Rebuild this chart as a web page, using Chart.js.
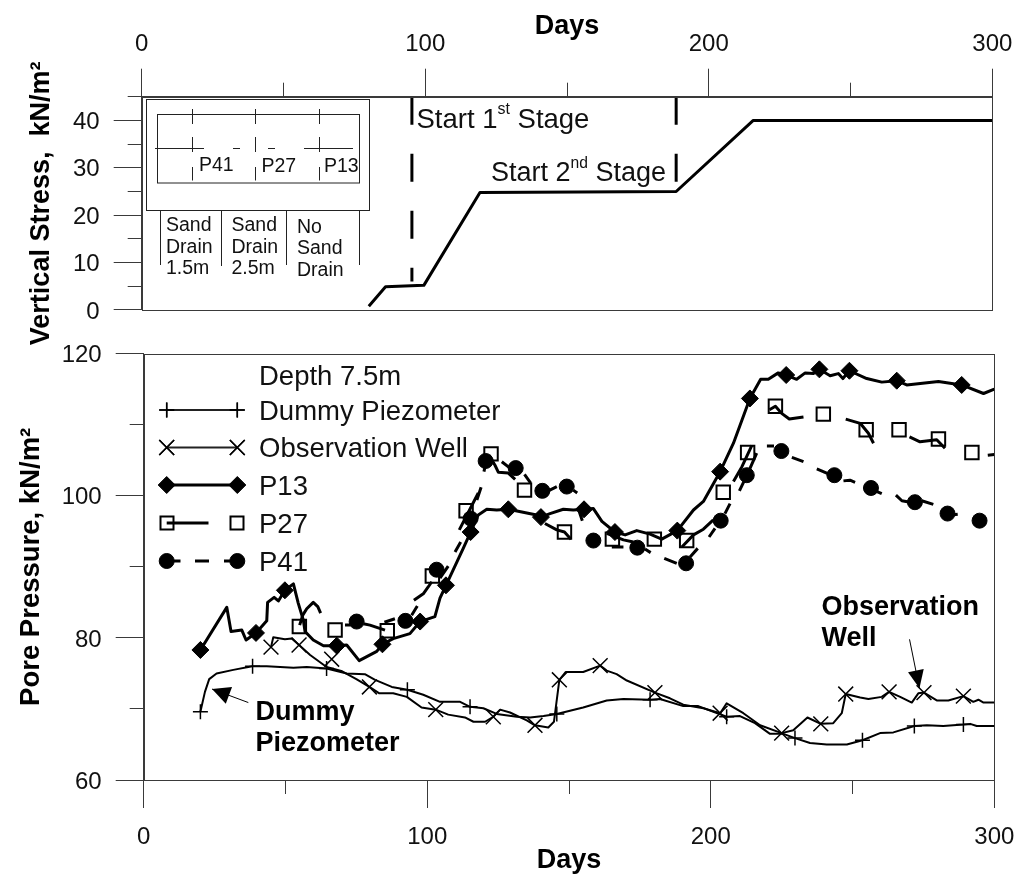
<!DOCTYPE html>
<html>
<head>
<meta charset="utf-8">
<title>Vertical stress and pore pressure</title>
<script src="https://cdn.jsdelivr.net/npm/chart.js@4/dist/chart.umd.min.js"></script>
<style>
  html, body { margin: 0; padding: 0; background: #fff; }
  canvas { position: absolute; left: 0; top: 0; }
</style>
</head>
<body>
<canvas id="stress" width="1015" height="879"></canvas>
<canvas id="pressure" width="1015" height="879"></canvas>
<script>
// Top panel: applied stress and the two stage markers
const loadDays = [80.1, 86, 99.5, 119.3, 188.5, 215.7, 300];
const loadVals = [0.8, 4.9, 5.2, 24.8, 25, 40, 40];
const stage1Days = [95.3, 95.3];
const stage1Vals = [45, 6];
const stage2Days = [188.5, 188.5];
const stage2Vals = [45, 25];

// Bottom panel: null in a value array breaks the line
const dummyDays = [20, 21.6, 23.1, 25.7, 31.6, 38.3, 43.4, 52.8, 57.5, 64.5, 71.6, 78, 81.6, 87.5, 93, 98.6, 104.5, 111.6, 115.1, 119.8, 124.5, 131.6, 136.3, 141, 145.7, 155, 163.3, 169.2, 178.6, 182.1, 190.3, 195.6, 205.6, 210.3, 215.6, 220.9, 225.6, 229.7, 235, 240.9, 248, 253.5, 259.7, 264.4, 271.8, 276.2, 282, 289.1, 291.5, 293.8, 300];
const dummyVals = [69.6, 72.4, 74.2, 75, 75.5, 76, 76, 75.8, 75.9, 75.7, 75, 74.9, 74.1, 73.1, 72.7, 72, 71, 71, 70.3, 70.1, 69.3, 68.9, 68.8, 69, 69.3, 70.2, 71.2, 71.4, 71.3, 71.4, 70.4, 70.4, 68.9, 69, 68, 66.5, 66.5, 65.9, 65.2, 65, 65, 65.6, 66.6, 66.7, 67.6, 67.7, 67.6, 67.8, 67.9, 67.6, 67.6];
const dummyMarkDays = [20, 38.4, 64.5, 93, 115.1, 145.7, 178.6, 205.6, 229.7, 253.5, 271.8, 289.1];
const dummyMarkVals = [69.6, 76, 75.7, 72.7, 70.3, 69.3, 71.3, 68.9, 65.9, 65.6, 67.6, 67.8];

const wellDays = [44.9, 45.7, 49.8, 52.2, 54.8, 58.7, 64.5, 70, 75, 79.6, 83.1, 88, 92.8, 98, 103, 107.4, 113.3, 116.3, 120.4, 123.3, 125.7, 129.2, 135.1, 138, 142.7, 144.7, 146.6, 148.8, 155, 161, 163.3, 166.8, 170.4, 180.3, 185.6, 190.3, 197.4, 203.3, 205.6, 211.5, 217.4, 225, 229.1, 234.1, 238.8, 243.2, 246.2, 247.6, 252.7, 255.6, 260.3, 262.9, 266.8, 270.9, 273.2, 275.2, 279.7, 283.8, 289.1, 292.6, 294.4, 296.2, 300];
const wellVals = [78.7, 80.1, 79.8, 79.9, 79, 77.6, 75.9, 75.3, 74.2, 73.1, 72.2, 72.2, 71.7, 70.2, 69.9, 69.2, 68.8, 68.2, 68.2, 68.9, 69.9, 69.5, 68.4, 67.7, 67.4, 68.2, 74.1, 75.2, 75.2, 76.1, 75.4, 74.9, 74, 72.3, 71.5, 70.6, 70.1, 69.4, 70.8, 69.4, 67.7, 66.6, 67, 68.8, 67.9, 68, 69.4, 72.1, 71.6, 71.4, 71.7, 72.4, 71.7, 70.9, 72.2, 72.3, 71.2, 71.2, 71.8, 71, 71.3, 70.9, 70.9];
const wellMarkDays = [44.9, 54.8, 66.3, 79.6, 103, 123.3, 138, 146.6, 161, 180.3, 203.3, 225, 238.8, 247.6, 262.9, 275.2, 289.1];
const wellMarkVals = [78.7, 79, 77, 73.1, 69.9, 68.9, 67.7, 74.1, 76.1, 72.3, 69.4, 66.6, 67.9, 72.1, 72.4, 72.3, 71.8];

const p13Days = [20, 29.3, 30.8, 34.6, 36.1, 39.6, 43.4, 43.7, 46, 47.5, 49.8, 52.8, 54.5, 56.3, 56.9, 59.8, 63.4, 68.1, 71.6, 76, 82.2, 84.2, 88, 93.9, 97.5, 102.7, 104.5, 106.6, 112.7, 115.3, 118, 121, 124.5, 128.6, 138.6, 140.1, 143.3, 148, 151.5, 155.3, 158.6, 161.6, 166.2, 169.8, 173.9, 178.6, 182.7, 188.2, 193.9, 197.4, 203.3, 208, 213.8, 217.6, 220.3, 223.8, 226.6, 230.3, 233.3, 236.2, 238.3, 242.1, 245, 246.6, 248.9, 255, 260.3, 265.6, 269.1, 280.3, 288.5, 296.2, 300];
const p13Vals = [78.3, 84.3, 80.9, 81.1, 79.7, 80.7, 82.4, 85, 85.7, 85.2, 86.7, 87.6, 84.9, 82.5, 80.9, 79.7, 78.9, 78.9, 79, 76.8, 78.1, 79.1, 79.9, 80.6, 82.3, 83, 85.6, 87.4, 92.6, 94.9, 97.3, 98.1, 98, 98.1, 97.3, 97, 97.5, 98.1, 98, 98.1, 98.2, 96.4, 94.9, 94.5, 95.1, 94.6, 93.9, 95.1, 98, 99.2, 103.4, 107.4, 113.7, 116.4, 116.4, 117.3, 117, 116.4, 117.3, 117.2, 117.8, 116.9, 117.2, 116.5, 117.6, 116.5, 116, 116.2, 115.6, 116.1, 115.6, 114.4, 115];
const p13MarkDays = [20, 39.6, 49.8, 68.1, 84.2, 97.5, 106.6, 115.3, 128.6, 140.1, 155.3, 166.2, 188.2, 203.3, 213.8, 226.6, 238.3, 248.9, 265.6, 288.5];
const p13MarkVals = [78.3, 80.7, 86.7, 78.9, 79.1, 82.3, 87.4, 94.9, 98.1, 97, 98.1, 94.9, 95.1, 103.4, 113.7, 117, 117.8, 117.6, 116.2, 115.6];

const p27Days = [55, 56.1, 57.5, 59.8, 61.4, 62.4, 62.4, 77.5, 79.8, 85.1, 85.1, 95.3, 98.6, 100.4, 101.6, 101.6, 111.3, 118, 118, 121.8, 123.9, 125.1, 128.6, 131, 131, 141.5, 145.7, 148.4, 150.7, 150.7, 153.6, 154.7, 154.7, 163.3, 169.2, 172.7, 172.7, 189.8, 193.9, 197.4, 200.9, 200.9, 208, 211, 214.5, 214.5, 220.7, 222.8, 225, 227.7, 232.7, 232.7, 247.6, 252.7, 255.6, 257.4, 257.4, 270.1, 273.8, 279.7, 282.6, 282.6, 297.7, 300];
const p27Vals = [81.8, 83.2, 84.1, 85, 84.4, 83.5, null, 82, 81.8, 81.1, null, 85.3, 86.2, 87.2, 87.9, null, 95.2, 100.4, null, 105.7, 104.3, 103.3, 103.2, 102.3, null, 96.1, 95.2, 94.9, 93.9, null, 97.8, 96.5, null, 94.7, 93.8, 93.5, null, 92.8, 94.5, 95.3, 96.6, null, 102, 104.1, 107.1, null, 112.1, 112.6, 111.6, 110.8, 111.1, null, 110.8, 110.2, 108.8, 107.4, null, 108.3, 107.6, 107.9, 106.7, null, 105.7, 105.8];
const p27MarkDays = [54.9, 67.5, 85.9, 101.8, 113.7, 122.5, 134.3, 148.4, 165.3, 180.1, 191.5, 204.4, 213, 222.8, 239.7, 254.8, 266.4, 280.3, 292.1];
const p27MarkVals = [81.6, 81.1, 81, 88.7, 97.9, 105.9, 100.8, 94.9, 93.9, 93.9, 93.7, 100.5, 106.1, 112.6, 111.5, 109.3, 109.3, 108, 106.1];

const p41Days = [71, 73, 73, 84.9, 88.6, 88.6, 94.5, 96.5, 96.5, 104.5, 107.4, 107.4, 109.8, 111.8, 111.8, 117.5, 119, 119, 120, 120.4, 120.4, 126.3, 129.2, 129.2, 134.3, 136.5, 136.5, 142.7, 145.7, 145.7, 151.5, 152.9, 152.9, 165.1, 169.2, 169.2, 176.8, 178.8, 178.8, 183.6, 188, 188, 192.7, 195.4, 195.4, 199.4, 201.5, 201.5, 205, 206.8, 206.8, 210.1, 213.1, 216.2, 216.2, 219.8, 222.3, 222.3, 228.6, 232.7, 232.7, 237.4, 241.5, 241.5, 246.8, 249.1, 250.9, 250.9, 258, 260.3, 260.3, 265.3, 267.4, 270.3, 270.3, 274.4, 278.5, 278.5, 285, 287.1];
const p41Vals = [81.8, 81.8, null, 82.2, 82.7, null, 83.2, 84.5, null, 88.4, 90.1, null, 92.1, 93.5, null, 99.4, 101.2, null, 103.4, 104.1, null, 104.8, 103.9, null, 103, 101.8, null, 100.7, 101.3, null, 100.8, 100.4, null, 92.8, 92.8, null, 92.5, 92, null, 91.2, 90.5, null, 91.4, 92.6, null, 94.2, 95.4, null, 97.5, 98.9, null, 100.7, 103.2, 106, null, 107, 107, null, 105.4, 104.8, null, 103.8, 103.1, null, 102.1, 102.2, 101.9, null, 100.7, 100.3, null, 100.1, 99.3, 99.1, null, 99.3, 98.8, null, 97.3, 97.4];
const p41MarkDays = [75.1, 92.3, 103.3, 115.3, 120.6, 131.2, 140.6, 149.2, 158.6, 174.1, 191.3, 203.5, 212.7, 224.9, 243.6, 256.5, 272, 283.5, 294.8];
const p41MarkVals = [82.3, 82.4, 89.6, 96.8, 104.9, 103.9, 100.7, 101.3, 93.7, 92.7, 90.5, 96.5, 102.9, 106.3, 102.9, 101.1, 99.1, 97.5, 96.5];

const dayLabelsTop = 'Days';
const stressTitle = 'Vertical Stress,  kN/m²';
const pressureTitle = 'Pore Pressure, kN/m²';

const FONT = '"Liberation Sans", Arial, sans-serif';
const AXIS_COLOR = '#3a3a3a';

Chart.defaults.font.family = FONT;
Chart.defaults.color = '#000';
Chart.defaults.animation = false;

function toPoints(days, vals) {
    return days.map((d, i) => ({ x: d, y: vals[i] }));
}

function lineSet(days, vals, width, dash) {
    return {
        data: toPoints(days, vals),
        borderColor: '#000',
        borderWidth: width,
        borderDash: dash || [],
        borderJoinStyle: 'round',
        pointRadius: 0,
        tension: 0,
        spanGaps: false,
        order: 2
    };
}

function markSet(days, vals, style, radius, fill, width, order) {
    return {
        data: toPoints(days, vals),
        showLine: false,
        pointStyle: style,
        pointRadius: radius,
        pointBackgroundColor: fill,
        pointBorderColor: '#000',
        pointBorderWidth: width,
        order: order
    };
}

// axis with fixed box size, so the plot lands where the reference has it
function axisOpts(position, min, max, step, tick, size, extra) {
    return Object.assign({
        type: 'linear',
        position: position,
        min: min,
        max: max,
        grid: { drawOnChartArea: false, tickLength: tick, tickColor: AXIS_COLOR, tickWidth: 1 },
        border: { color: AXIS_COLOR, width: 1 },
        afterFit: (scale) => {
            if (scale.isHorizontal()) scale.height = size;
            else scale.width = size;
            // the 300 label may overhang, it must not push the plot in
            scale.paddingLeft = scale.paddingRight = scale.paddingTop = scale.paddingBottom = 0;
        },
        ticks: { stepSize: step, includeBounds: false, display: false }
    }, extra || {});
}

function labelTicks(step, padding, offset) {
    return {
        stepSize: step,
        includeBounds: false,
        padding: padding,
        labelOffset: offset || 0,
        maxRotation: 0,
        autoSkip: false,
        color: '#111',
        font: { size: 24 }
    };
}

function axisTitle(text, padding, size) {
    return { display: true, text: text, padding: padding, color: '#000', font: { size: size || 27, weight: 'bold' } };
}

function frameLines(chart) {
    const a = chart.chartArea;
    const ctx = chart.ctx;
    const left = Math.round(a.left) + 0.5;
    const top = Math.round(a.top) + 0.5;
    ctx.save();
    ctx.strokeStyle = AXIS_COLOR;
    ctx.lineWidth = 1;
    ctx.strokeRect(left, top, Math.round(a.right) + 0.5 - left, Math.round(a.bottom) + 0.5 - top);
    ctx.restore();
}

// runs of [text, isSuperscript] on one baseline
function drawRuns(ctx, x, y, runs, size) {
    let cx = x;
    for (const [text, sup] of runs) {
        ctx.font = (sup ? size * 0.58 : size) + 'px ' + FONT;
        ctx.fillText(text, cx, sup ? y - size * 0.36 : y);
        cx += ctx.measureText(text).width;
    }
}

function segs(ctx, list) {
    ctx.beginPath();
    for (const [x1, y1, x2, y2] of list) {
        ctx.moveTo(x1, y1);
        ctx.lineTo(x2, y2);
    }
    ctx.stroke();
}

const stressNotes = {
    id: 'stressNotes',
    afterDraw(chart) {
        const ctx = chart.ctx;
        frameLines(chart);
        ctx.save();
        ctx.fillStyle = '#111';
        ctx.textBaseline = 'middle';
        ctx.textAlign = 'left';
        drawRuns(ctx, 416.5, 120, [['Start 1'], ['st', true], [' Stage']], 27.5);
        drawRuns(ctx, 491, 173.5, [['Start 2'], ['nd', true], [' Stage']], 27);

        // site sketch
        ctx.strokeStyle = '#222';
        ctx.lineWidth = 1;
        ctx.fillStyle = '#fff';
        ctx.fillRect(146.5, 99.5, 223, 111);
        ctx.strokeRect(146.5, 99.5, 223, 111);
        ctx.strokeRect(157.5, 114.5, 202, 68.5);
        for (const x of [192.5, 255.5, 319.5]) {
            segs(ctx, [[x, 109, x, 124], [x, 137, x, 152], [x, 167, x, 180.5]]);
        }
        segs(ctx, [[155, 148.5, 204, 148.5], [233, 148.5, 240, 148.5], [268, 148.5, 275, 148.5], [304, 148.5, 353, 148.5]]);
        segs(ctx, [[160.5, 211, 160.5, 265], [221.5, 211, 221.5, 266], [286.5, 211, 286.5, 265], [359.5, 211, 359.5, 265]]);

        ctx.fillStyle = '#111';
        ctx.font = '19.5px ' + FONT;
        ctx.fillText('P41', 199, 166);
        ctx.fillText('P27', 261.5, 167);
        ctx.fillText('P13', 324, 167);
        ctx.fillText('Sand', 166, 225.5);
        ctx.fillText('Drain', 166, 247.5);
        ctx.fillText('1.5m', 166, 269);
        ctx.fillText('Sand', 231.5, 225.5);
        ctx.fillText('Drain', 231.5, 247.5);
        ctx.fillText('2.5m', 231.5, 269);
        ctx.fillText('No', 297, 227.5);
        ctx.fillText('Sand', 297, 248.5);
        ctx.fillText('Drain', 297, 270.5);
        ctx.restore();
    }
};

function arrow(ctx, x1, y1, x2, y2, len, half) {
    const ang = Math.atan2(y2 - y1, x2 - x1);
    ctx.beginPath();
    ctx.moveTo(x1, y1);
    ctx.lineTo(x2, y2);
    ctx.stroke();
    ctx.beginPath();
    ctx.moveTo(x2, y2);
    ctx.lineTo(x2 - len * Math.cos(ang) + half * Math.sin(ang), y2 - len * Math.sin(ang) - half * Math.cos(ang));
    ctx.lineTo(x2 - len * Math.cos(ang) - half * Math.sin(ang), y2 - len * Math.sin(ang) + half * Math.cos(ang));
    ctx.closePath();
    ctx.fill();
}

const pressureNotes = {
    id: 'pressureNotes',
    beforeDatasetsDraw(chart) {
        frameLines(chart);
    },
    afterDraw(chart) {
        const ctx = chart.ctx;
        const px = chart.scales.x;
        const py = chart.scales.y;
        ctx.save();
        ctx.fillStyle = '#000';
        ctx.strokeStyle = '#000';
        ctx.textBaseline = 'middle';

        // arrows point at the curves, so they go through the scales
        ctx.lineWidth = 1;
        arrow(ctx, px.getPixelForValue(36.9), py.getPixelForValue(70.9), px.getPixelForValue(24.1), py.getPixelForValue(72.8), 18, 9);
        arrow(ctx, px.getPixelForValue(270.1), py.getPixelForValue(79.8), px.getPixelForValue(273.6), py.getPixelForValue(72.9), 18, 8);

        ctx.font = 'bold 27px ' + FONT;
        ctx.fillText('Dummy', 255.5, 713);
        ctx.fillText('Piezometer', 255.5, 744);
        ctx.fillText('Observation', 821.5, 608);
        ctx.fillText('Well', 821.5, 639);

        // legend
        const x1 = 166.7;
        const x2 = 237.3;
        const rowText = [['Depth 7.5m', 377], ['Dummy Piezometer', 412], ['Observation Well', 449.5], ['P13', 487], ['P27', 525], ['P41', 563]];
        ctx.fillStyle = '#111';
        ctx.font = '27.5px ' + FONT;
        for (const [text, y] of rowText) ctx.fillText(text, 259, y);

        ctx.strokeStyle = '#222';
        ctx.lineWidth = 2;
        segs(ctx, [[x1, 410, x2, 410], [x1, 447.5, x2, 447.5]]);
        ctx.strokeStyle = '#000';
        ctx.lineWidth = 1.5;
        for (const x of [x1, x2]) {
            Chart.helpers.drawPoint(ctx, { pointStyle: 'cross', radius: 7.5, rotation: 0, borderWidth: 1.5 }, x, 410);
            ctx.stroke();
            Chart.helpers.drawPoint(ctx, { pointStyle: 'crossRot', radius: 10.5, rotation: 0, borderWidth: 1.5 }, x, 447.5);
            ctx.stroke();
        }
        ctx.lineWidth = 3;
        segs(ctx, [[x1, 485, x2, 485], [x1, 523, 208.5, 523], [x1, 561, 180.5, 561], [195, 561, 209, 561], [224, 561, x2, 561]]);
        ctx.fillStyle = '#000';
        for (const x of [x1, x2]) {
            ctx.lineWidth = 1;
            Chart.helpers.drawPoint(ctx, { pointStyle: 'rectRot', radius: 8.5, rotation: 0, borderWidth: 1 }, x, 485);
            Chart.helpers.drawPoint(ctx, { pointStyle: 'circle', radius: 7.5, rotation: 0, borderWidth: 1 }, x, 561);
        }
        ctx.lineWidth = 2;
        ctx.strokeRect(160.5, 516.5, 13, 13);
        ctx.strokeRect(230.5, 516.5, 13, 13);
        ctx.restore();
    }
};

new Chart(document.getElementById('stress'), {
    type: 'line',
    data: {
        datasets: [
            lineSet(loadDays, loadVals, 3),
            lineSet(stage1Days, stage1Vals, 3, [28, 29]),
            lineSet(stage2Days, stage2Vals, 3, [28, 29])
        ]
    },
    options: {
        responsive: false,
        layout: { padding: { left: 0, top: 0, right: 22.7, bottom: 569 } },
        plugins: { legend: { display: false }, tooltip: { enabled: false } },
        scales: {
            x: axisOpts('top', 0, 300, 100, 28, 96.7, {
                ticks: labelTicks(100, 10),
                title: axisTitle(dayLabelsTop, { top: 10 })
            }),
            xMinor: axisOpts('top', 0, 300, 50, 14, 0, { weight: -1 }),
            y: axisOpts('left', 0, 45, 10, 28, 141.7, {
                ticks: labelTicks(10, 14, 2),
                title: axisTitle(stressTitle, { top: 25 })
            }),
            yMinor: axisOpts('left', 0, 45, 5, 14, 0, { weight: -1 })
        }
    },
    plugins: [stressNotes]
});

new Chart(document.getElementById('pressure'), {
    type: 'line',
    data: {
        datasets: [
            markSet(p27MarkDays, p27MarkVals, 'rect', 9.5, '#fff', 2, 10),
            lineSet(dummyDays, dummyVals, 2),
            lineSet(wellDays, wellVals, 2),
            lineSet(p13Days, p13Vals, 3),
            lineSet(p27Days, p27Vals, 3),
            lineSet(p41Days, p41Vals, 3),
            markSet(dummyMarkDays, dummyMarkVals, 'cross', 7.5, '#000', 1.5, 1),
            markSet(wellMarkDays, wellMarkVals, 'crossRot', 10.5, '#000', 1.5, 1),
            markSet(p13MarkDays, p13MarkVals, 'rectRot', 8.5, '#000', 1, 1),
            markSet(p41MarkDays, p41MarkVals, 'circle', 7.5, '#000', 1, 1)
        ]
    },
    options: {
        responsive: false,
        layout: { padding: { left: 0, top: 353.7, right: 20.7, bottom: 0 } },
        plugins: { legend: { display: false }, tooltip: { enabled: false } },
        scales: {
            x: axisOpts('bottom', 0, 300, 100, 28, 99, {
                ticks: labelTicks(100, 15),
                title: axisTitle('Days', { bottom: 2 })
            }),
            xMinor: axisOpts('bottom', 0, 300, 50, 14, 0, { weight: -1 }),
            y: axisOpts('left', 60, 120, 20, 28, 143.7, {
                ticks: labelTicks(20, 14, 2),
                title: axisTitle(pressureTitle, { top: 15 }, 27.5)
            }),
            yMinor: axisOpts('left', 60, 120, 10, 14, 0, { weight: -1 })
        }
    },
    plugins: [pressureNotes]
});
</script>
</body>
</html>
